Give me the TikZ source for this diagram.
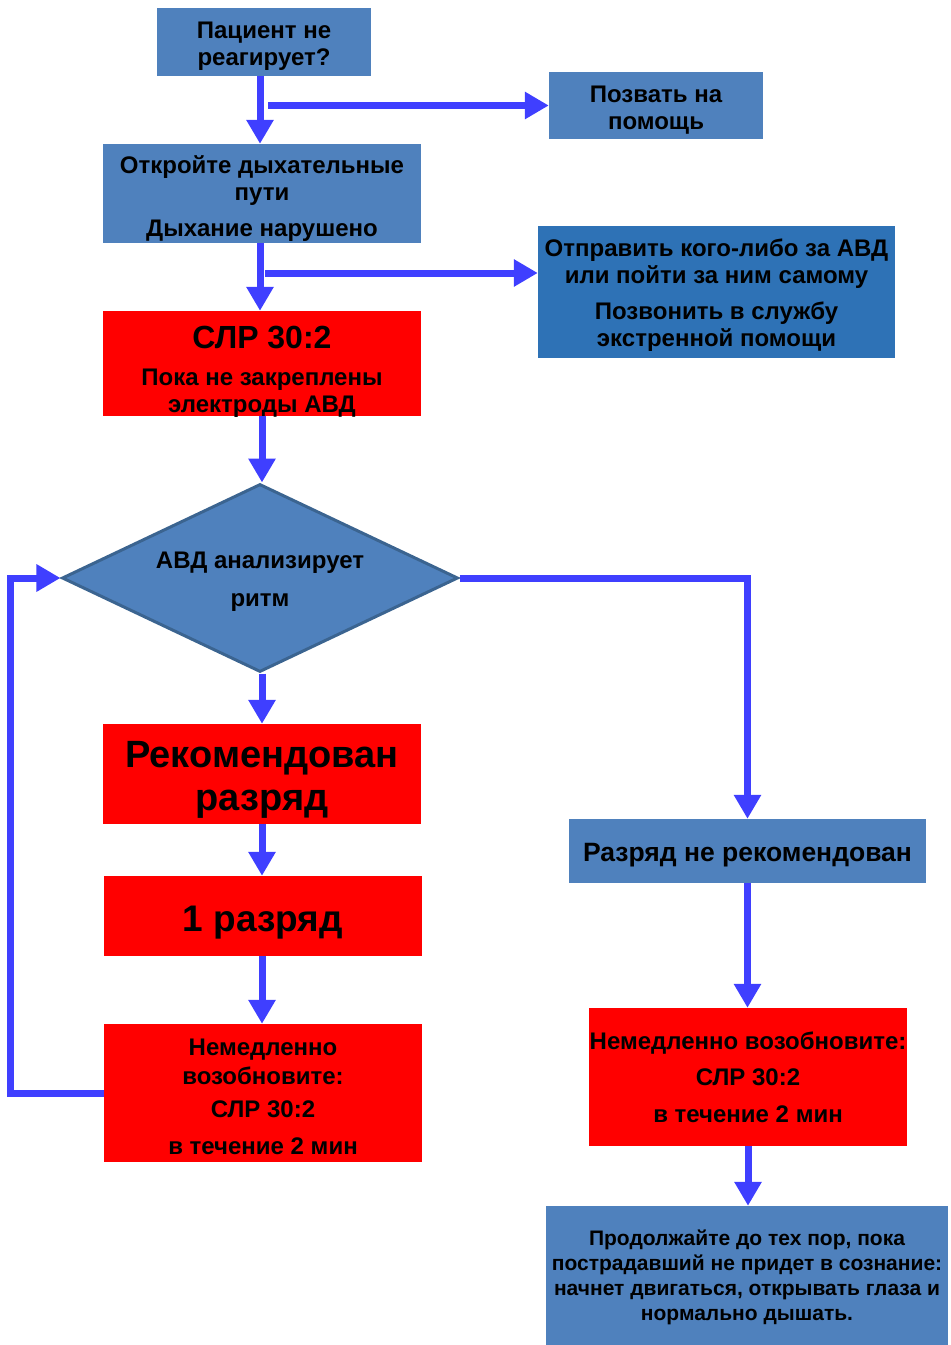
\documentclass[tikz,border=0pt]{standalone}
\usepackage{fontspec}
\setmainfont{Liberation Sans}
\usepackage{tikz}
\usetikzlibrary{shapes.geometric,arrows.meta}
\definecolor{boxblue}{HTML}{4F81BD}
\definecolor{darkblue}{HTML}{2E72B6}
\definecolor{rimblue}{HTML}{3B6490}
\definecolor{boxred}{HTML}{FF0000}
\definecolor{flowblue}{HTML}{3F3FFF}
\newcommand{\boxfont}[2]{\fontsize{#1bp}{#2bp}\selectfont\bfseries}
% taller first line, pushes the text block down by half of #1
\newcommand{\dn}[1]{\rule{0pt}{\dimexpr0.73em+#1\relax}}

\begin{document}
\begin{tikzpicture}[x=1bp,y=-1bp,
  bluebox/.style={fill=boxblue,inner sep=0pt,align=center},
  redbox/.style={fill=boxred,inner sep=0pt,align=center},
  flow/.style={draw=flowblue,line width=7bp,-{Triangle[length=24bp,width=26bp]}}]
  \useasboundingbox (0,0) rectangle (950,1345);
  \node[bluebox,minimum width=214bp,minimum height=68bp,font=\boxfont{24}{27}] (patient) at (264,42)
    {\dn{8bp}Пациент не\\реагирует?};
  \node[bluebox,minimum width=214bp,minimum height=67bp,font=\boxfont{24}{27}] (help) at (656,105.5)
    {\dn{8bp}Позвать на\\помощь};
  \node[bluebox,minimum width=318bp,minimum height=99bp,font=\boxfont{24}{27}] (airway) at (262,193.5)
    {\dn{10bp}Откройте дыхательные\\пути\\[9bp]Дыхание нарушено};
  \node[bluebox,fill=darkblue,minimum width=357bp,minimum height=132bp,font=\boxfont{24}{27}] (aed) at (716.5,292)
    {\dn{6bp}Отправить кого-либо за АВД\\или пойти за ним самому\\[9bp]Позвонить в службу\\экстренной помощи};
  \node[redbox,minimum width=318bp,minimum height=105bp,text depth=0pt,font=\boxfont{24}{27}] (cpr) at (262,363.5)
    {{\boxfont{32}{34}\dn{11bp}СЛР 30:2}\\[10bp]Пока не закреплены\\электроды АВД};
  \node[draw=rimblue,line width=3bp,fill=boxblue,diamond,aspect=2.1,inner sep=0pt,
    minimum width=396bp,minimum height=188bp,align=center,font=\boxfont{24}{27}] (analyze) at (260,578)
    {\dn{6bp}АВД анализирует\\[11bp]ритм};
  \node[redbox,minimum width=318bp,minimum height=100bp,font=\boxfont{38}{43}] (shock) at (262,774)
    {\dn{10bp}Рекомендован\\разряд};
  \node[redbox,minimum width=318bp,minimum height=80bp,font=\boxfont{37}{40}] (single) at (263,916)
    {\dn{12bp}1 разряд};
  \node[redbox,minimum width=318bp,minimum height=138bp,font=\boxfont{24}{29}] (cprL) at (263,1093)
    {\dn{6bp}Немедленно\\возобновите:\\[4bp]СЛР 30:2\\[8bp]в течение 2 мин};
  \node[bluebox,minimum width=357bp,minimum height=64bp,font=\boxfont{26.5}{29}] (noshock) at (747.5,851)
    {\dn{8bp}Разряд не рекомендован};
  \node[redbox,minimum width=318bp,minimum height=138bp,font=\boxfont{24}{36.5}] (cprR) at (748,1077)
    {Немедленно возобновите:\\СЛР 30:2\\в течение 2 мин};
  \node[bluebox,minimum width=402bp,minimum height=139bp,font=\boxfont{21}{25}] (keep) at (747,1275.5)
    {\dn{4bp}Продолжайте до тех пор, пока\\пострадавший не придет в сознание:\\начнет двигаться, открывать глаза и\\нормально дышать.};
  % connectors
  \draw[flow] ([xshift=-4bp]patient.south) -- ([xshift=-4bp]patient.south |- airway.north);
  \draw[flow] ([xshift=4bp]patient.south |- help.west) -- (help.west);
  \draw[flow] ([xshift=-2bp]airway.south) -- ([xshift=-2bp]airway.south |- cpr.north);
  \draw[flow] ([xshift=3bp]airway.south |- 0,273) -- (aed.west |- 0,273);
  \draw[flow] (cpr.south) -- (cpr.south |- analyze.north);
  \draw[flow] ([xshift=2bp]analyze.south) -- ([xshift=2bp]analyze.south |- shock.north);
  \draw[flow] (shock.south) -- (shock.south |- single.north);
  \draw[flow] ([xshift=-1bp]single.south) -- ([xshift=-1bp]single.south |- cprL.north);
  \draw[flow] (cprL.west) -| ([xshift=-50bp]analyze.west) -- (analyze.west);
  \draw[flow] (analyze.east) -| (noshock.north);
  \draw[flow] (noshock.south) -- (noshock.south |- cprR.north);
  \draw[flow] (cprR.south) -- (cprR.south |- keep.north);
\end{tikzpicture}
\end{document}
